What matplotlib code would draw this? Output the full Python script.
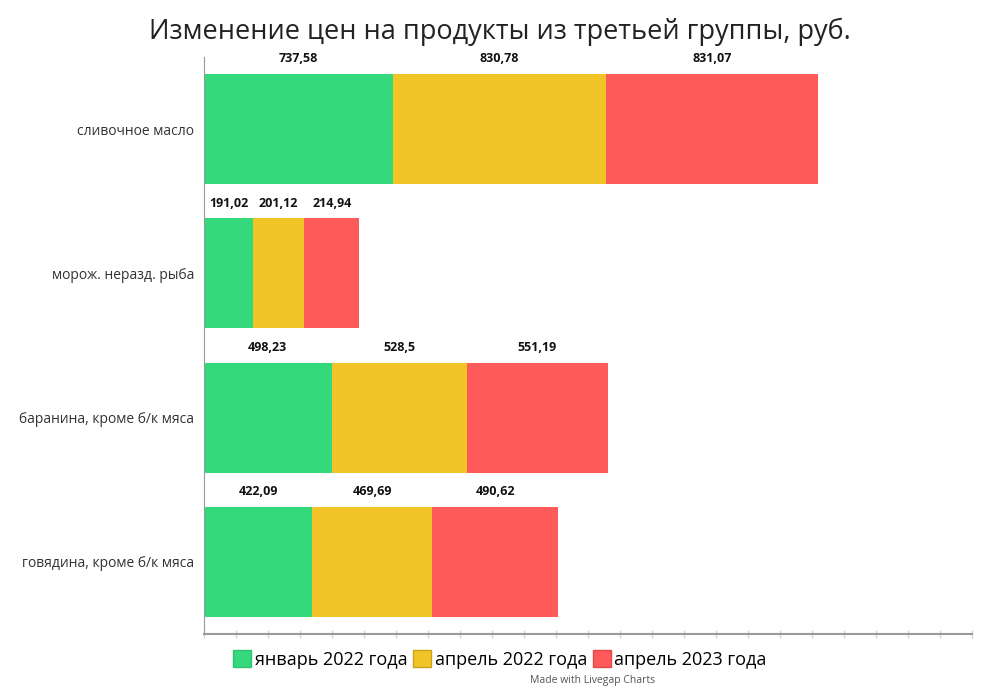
import matplotlib.pyplot as plt
from matplotlib.patches import Patch

plt.rcParams['font.family'] = ['Open Sans', 'DejaVu Sans']

categories = ['сливочное масло', 'морож. неразд. рыба',
              'баранина, кроме б/к мяса', 'говядина, кроме б/к мяса']
series_names = ['январь 2022 года', 'апрель 2022 года', 'апрель 2023 года']
jan_2022 = [737.58, 191.02, 498.23, 422.09]
apr_2022 = [830.78, 201.12, 528.5, 469.69]
apr_2023 = [831.07, 214.94, 551.19, 490.62]
label_texts = [
    ['737,58', '191,02', '498,23', '422,09'],
    ['830,78', '201,12', '528,5', '469,69'],
    ['831,07', '214,94', '551,19', '490,62'],
]
colors = ['#34D97B', '#F1C427', '#FF5A5A']
edge_colors = ['#2fc470', '#c9a21a', '#e04a4a']

fig = plt.figure(figsize=(10, 7), dpi=100)
ax = fig.add_axes([0.204, 0.0943, 0.768, 0.8243])

ypos = list(range(len(categories)))
bar_h = 0.764
left = [0] * len(categories)
for i, vals in enumerate([jan_2022, apr_2022, apr_2023]):
    ax.barh(ypos, vals, left=left, height=bar_h, color=colors[i],
            edgecolor='none')
    for j, v in enumerate(vals):
        ax.text(left[j] + v / 2, ypos[j] - bar_h / 2 - 0.06, label_texts[i][j],
                ha='center', va='bottom', fontsize=9, fontweight='bold',
                color='#111111')
    left = [a + b for a, b in zip(left, vals)]

ax.set_xlim(0, 3000)
ax.set_ylim(3.5, -0.5)
ax.set_yticks(ypos)
ax.set_yticklabels(categories, fontsize=10, color='#333333')
ax.tick_params(axis='y', length=0, pad=7)
ax.set_xticks(range(0, 3001, 125))
ax.set_xticklabels([])
ax.tick_params(axis='x', length=6, direction='inout', color='#d6d6d6', width=1)

for s in ['top', 'right']:
    ax.spines[s].set_visible(False)
ax.spines['left'].set_color('#999999')
ax.spines['bottom'].set_color('#999999')
ax.spines['bottom'].set_linewidth(1.5)

fig.text(0.5, 0.955, 'Изменение цен на продукты из третьей группы, руб.',
         ha='center', va='center', fontsize=19.5, color='#222222')

handles = [Patch(facecolor=c, edgecolor=e) for c, e in zip(colors, edge_colors)]
fig.legend(handles, series_names, loc='center', bbox_to_anchor=(0.5, 0.058),
           ncol=3, frameon=False, fontsize=13, handlelength=1.0,
           handleheight=1.1, handletextpad=0.2, columnspacing=0.3)
fig.text(0.593, 0.028, 'Made with Livegap Charts', ha='center', va='center',
         fontsize=7.5, color='#555555')

fig.savefig('out.png', dpi=100)
